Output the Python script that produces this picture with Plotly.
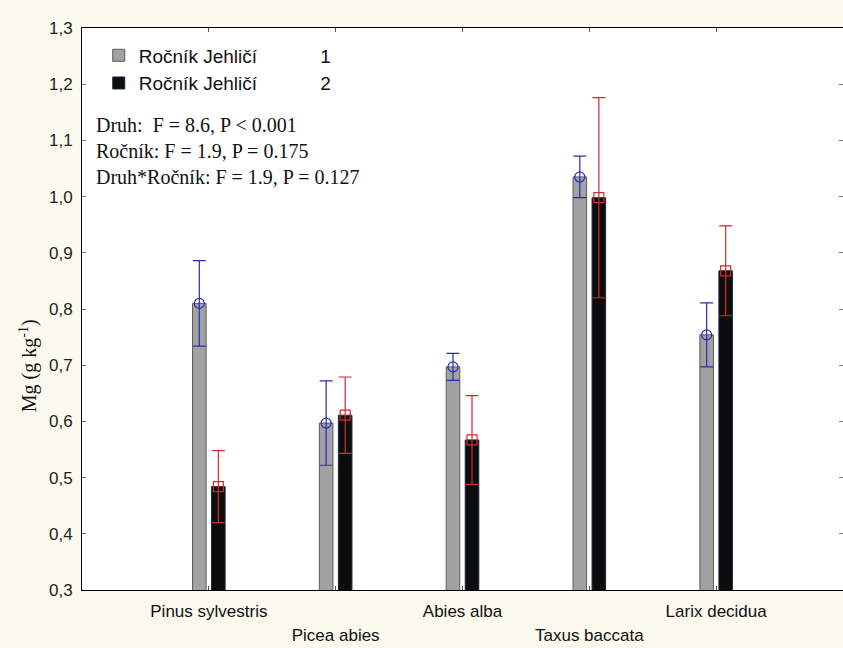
import plotly.graph_objects as go

# Mg content in needles by species and needle age class
species = ["Pinus sylvestris", "Picea abies", "Abies alba", "Taxus baccata", "Larix decidua"]
age_labels = ["Ročník Jehličí", "Ročník Jehličí"]
age_classes = ["1", "2"]

mg_age1 = [0.810, 0.597, 0.697, 1.035, 0.754]
err_age1 = [0.076, 0.075, 0.024, 0.037, 0.057]
mg_age2 = [0.484, 0.611, 0.567, 0.998, 0.868]
err_age2 = [0.064, 0.068, 0.079, 0.178, 0.080]

y_ticks = [0.3, 0.4, 0.5, 0.6, 0.7, 0.8, 0.9, 1.0, 1.1, 1.2, 1.3]

stats_lines = [
    "Druh:  F = 8.6, P < 0.001",
    "Ročník: F = 1.9, P = 0.175",
    "Druh*Ročník: F = 1.9, P = 0.127",
]
y_title = "Mg (g kg<sup>-1</sup>)"

BAR_W = 0.107
SHIFT = 0.075
SANS = "Liberation Sans, Arial, sans-serif"
SERIF = "Liberation Serif, Times New Roman, serif"
CREAM = "#fcf9ef"

xs = list(range(len(species)))
fig = go.Figure()

series = [
    dict(vals=mg_age1, err=err_age1, off=-SHIFT, fill="#a2a2a2", edge="#5a5a5a",
         ecol="#2a2ab8", sym="circle-open"),
    dict(vals=mg_age2, err=err_age2, off=SHIFT, fill="#0d0d0d", edge="#1b2742",
         ecol="#d42a2a", sym="square-open"),
]

for i, s in enumerate(series):
    name = age_labels[i] + "\u00a0" * 12 + age_classes[i]
    # bars (also provide the legend swatches)
    fig.add_trace(go.Bar(
        x=xs, y=s["vals"], width=BAR_W, offset=s["off"] - BAR_W / 2,
        marker=dict(color=s["fill"], line=dict(color=s["edge"], width=1)),
        name=name, hoverinfo="skip",
    ))
    # mean markers with error bars
    fig.add_trace(go.Scatter(
        x=[x + s["off"] for x in xs], y=s["vals"], mode="markers",
        marker=dict(symbol=s["sym"], size=10, color=s["ecol"], line=dict(width=1.2)),
        error_y=dict(type="data", array=s["err"], visible=True,
                     color=s["ecol"], thickness=1.2, width=6.5),
        showlegend=False, hoverinfo="skip",
    ))

# species labels alternate between two rows under the axis
row1_vals = [i for i in xs if i % 2 == 0]
row1_text = [species[i] for i in row1_vals]
row2_vals = [i for i in xs if i % 2 == 1]
row2_text = [species[i] for i in row2_vals]

common_x = dict(
    range=[-1, 5], tickmode="array",
    showline=True, linecolor="black", linewidth=1, mirror="ticks",
    ticks="inside", ticklen=4, tickcolor="#555555",
    showgrid=False, zeroline=False,
    tickfont=dict(family=SANS, size=17, color="#111111"),
)

fig.update_layout(
    width=843, height=648,
    margin=dict(l=82, r=0, t=28, b=58),
    paper_bgcolor=CREAM,
    plot_bgcolor="white",
    barmode="overlay",
    separators=", ",
    showlegend=True,
    legend=dict(
        x=0.022, y=0.985, xanchor="left", yanchor="top",
        bgcolor="rgba(0,0,0,0)", borderwidth=0,
        font=dict(family=SANS, size=19, color="#111111"),
        itemwidth=30, tracegroupgap=0,
    ),
    xaxis=dict(common_x, tickvals=row1_vals, ticktext=row1_text, ticklabelstandoff=6),
    xaxis2=dict(common_x, tickvals=row2_vals, ticktext=row2_text,
                overlaying="x", side="bottom", anchor="y", ticklabelstandoff=30),
    yaxis=dict(
        range=[0.3, 1.3], tickmode="array", tickvals=y_ticks, tickformat=".1f",
        showline=True, linecolor="black", linewidth=1, mirror="ticks",
        ticks="inside", ticklen=4, tickcolor="#777777",
        showgrid=False, zeroline=False, ticklabelstandoff=5,
        tickfont=dict(family=SANS, size=17, color="#222222"),
    ),
)

# invisible trace that carries the second label row axis
fig.add_trace(go.Scatter(x=[None], y=[None], xaxis="x2", showlegend=False, hoverinfo="skip"))

# y-axis title, set a little below the middle of the axis
fig.add_annotation(
    xref="paper", yref="paper", x=-0.071, y=0.4, xanchor="center", yanchor="middle",
    text=y_title, textangle=-90, showarrow=False,
    font=dict(family=SERIF, size=20, color="#111111"),
)

fig.add_annotation(
    xref="paper", yref="paper", x=0.016, y=0.85, xanchor="left", yanchor="top",
    text="<br>".join(stats_lines), showarrow=False, align="left",
    font=dict(family=SERIF, size=20, color="#111111"),
)

fig.write_html("out.html")
